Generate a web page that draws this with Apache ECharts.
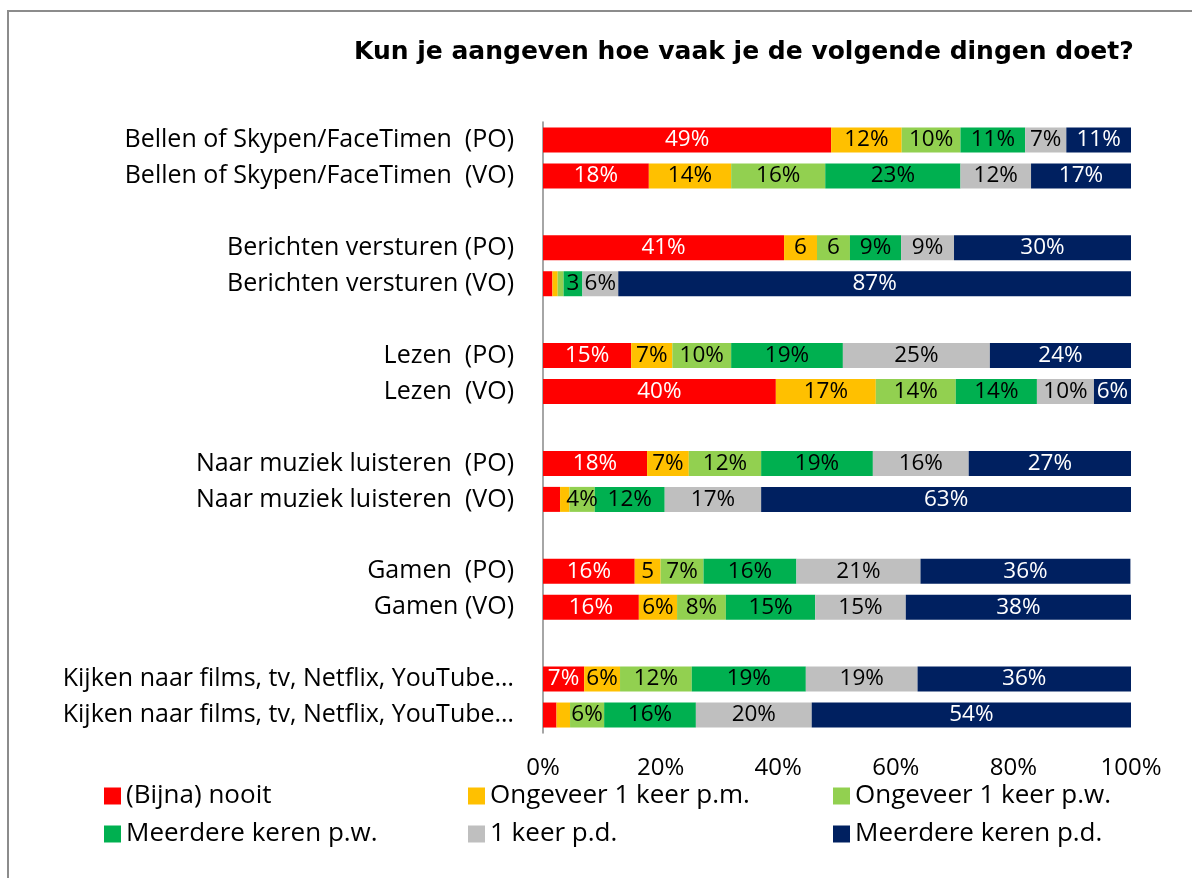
<!DOCTYPE html>
<html>
<head>
<meta charset="utf-8">
<script src="https://cdn.jsdelivr.net/npm/echarts@6/dist/echarts.min.js"></script>
<style>
html,body{margin:0;padding:0;background:#fff;}
#chart{width:1192px;height:878px;}
</style>
</head>
<body>
<div id="chart"></div>
<script>
// ---- Data ----
const title = 'Kun je aangeven hoe vaak je de volgende dingen doet?';
const categories = [
  'Bellen of Skypen/FaceTimen  (PO)', 'Bellen of Skypen/FaceTimen  (VO)', ' ',
  'Berichten versturen (PO)', 'Berichten versturen (VO)', '  ',
  'Lezen  (PO)', 'Lezen  (VO)', '   ',
  'Naar muziek luisteren  (PO)', 'Naar muziek luisteren  (VO)', '    ',
  'Gamen  (PO)', 'Gamen (VO)', '     ',
  'Kijken naar films, tv, Netflix, YouTube…', 'Kijken naar films, tv, Netflix, YouTube…'
];
const seriesNames = ['(Bijna) nooit', 'Ongeveer 1 keer p.m.', 'Ongeveer 1 keer p.w.',
  'Meerdere keren p.w.', '1 keer p.d.', 'Meerdere keren p.d.'];

const nooit      = [49, 18, null, 41, 1.6, null, 15, 39.6, null, 17.7, 2.9, null, 15.6, 16.3, null, 7.0, 2.3];
const perMaand   = [12, 14, null, 5.6, 0.9, null, 7, 17, null, 7.1, 1.6, null, 4.4, 6.5, null, 6.1, 2.3];
const perWeek    = [10, 16, null, 5.6, 1.0, null, 10, 13.6, null, 12.3, 4.3, null, 7.3, 8.3, null, 12.2, 5.8];
const meerWeek   = [11, 23, null, 8.7, 3.2, null, 19, 13.8, null, 19, 11.9, null, 15.8, 15.2, null, 19.4, 15.6];
const perDag     = [7, 12, null, 9, 6.1, null, 25, 9.7, null, 16.3, 16.4, null, 21.1, 15.4, null, 19, 19.7];
const meerDag    = [11, 17, null, 30.2, 87.2, null, 24, 6.3, null, 27.6, 62.9, null, 35.7, 38.3, null, 36.4, 54.3];

const lblNooit    = ['49%', '18%', '', '41%', '', '', '15%', '40%', '', '18%', '', '', '16%', '16%', '', '7%', ''];
const lblPerMaand = ['12%', '14%', '', '6', '', '', '7%', '17%', '', '7%', '', '', '5', '6%', '', '6%', ''];
const lblPerWeek  = ['10%', '16%', '', '6', '', '', '10%', '14%', '', '12%', '4%', '', '7%', '8%', '', '12%', '6%'];
const lblMeerWeek = ['11%', '23%', '', '9%', '3', '', '19%', '14%', '', '19%', '12%', '', '16%', '15%', '', '19%', '16%'];
const lblPerDag   = ['7%', '12%', '', '9%', '6%', '', '25%', '10%', '', '16%', '17%', '', '21%', '15%', '', '19%', '20%'];
const lblMeerDag  = ['11%', '17%', '', '30%', '87%', '', '24%', '6%', '', '27%', '63%', '', '36%', '38%', '', '36%', '54%'];

const xTicks = [0, 20, 40, 60, 80, 100];

// ---- Styling ----
const colors = ['#FF0000', '#FFC000', '#92D050', '#00B050', '#BFBFBF', '#002060'];
const labelColors = ['#ffffff', '#000000', '#000000', '#000000', '#000000', '#ffffff'];
const FONT = 'Open Sans';

const values = [nooit, perMaand, perWeek, meerWeek, perDag, meerDag];
const labels = [lblNooit, lblPerMaand, lblPerWeek, lblMeerWeek, lblPerDag, lblMeerDag];

const series = seriesNames.map((name, i) => ({
  name: name,
  type: 'bar',
  stack: 'total',
  barWidth: 25,
  itemStyle: { color: colors[i] },
  label: {
    show: true,
    position: 'inside',
    color: labelColors[i],
    fontFamily: FONT,
    fontSize: 22.5,
    formatter: p => labels[i][p.dataIndex] || ''
  },
  labelLayout: { hideOverlap: false },
  data: values[i].map(v => v === null ? '-' : v)
}));

const legendPos = [
  [104, 783], [468, 783], [833, 783],
  [104, 821], [468, 821], [833, 821]
];
const legends = seriesNames.map((nm, k) => ({
  data: [nm],
  left: legendPos[k][0],
  top: legendPos[k][1],
  itemWidth: 17,
  itemHeight: 17,
  itemGap: 5,
  icon: 'rect',
  selectedMode: false,
  textStyle: { fontFamily: FONT, fontSize: 26, color: '#000' },
  padding: 0
}));

const chart = echarts.init(document.getElementById('chart'), null, { renderer: 'canvas' });
chart.setOption({
  animation: false,
  backgroundColor: '#ffffff',
  title: {
    text: title,
    left: 349,
    top: 35,
    textStyle: { fontFamily: 'DejaVu Sans', fontWeight: 'bold', fontSize: 25, color: '#000' }
  },
  legend: legends,
  grid: { left: 543, right: 61, top: 122, bottom: 145, containLabel: false },
  xAxis: {
    type: 'value',
    min: 0,
    max: 100,
    interval: 20,
    axisLine: { show: false },
    axisTick: { show: false },
    splitLine: { show: false },
    axisLabel: {
      fontFamily: FONT, fontSize: 24, color: '#000', margin: 23,
      formatter: v => xTicks.indexOf(v) >= 0 ? v + '%' : ''
    }
  },
  yAxis: {
    type: 'category',
    inverse: true,
    data: categories,
    axisLine: { show: true, lineStyle: { color: '#888888', width: 1.5 } },
    axisTick: { show: false },
    axisLabel: { fontFamily: FONT, fontSize: 25, color: '#000', margin: 29, interval: 0 }
  },
  graphic: [{
    type: 'polyline',
    shape: { points: [[8, 878], [8, 11], [1192, 11]] },
    style: { stroke: '#8c8c8c', lineWidth: 2, fill: null },
    silent: true
  }],
  series: series
});
</script>
</body>
</html>
